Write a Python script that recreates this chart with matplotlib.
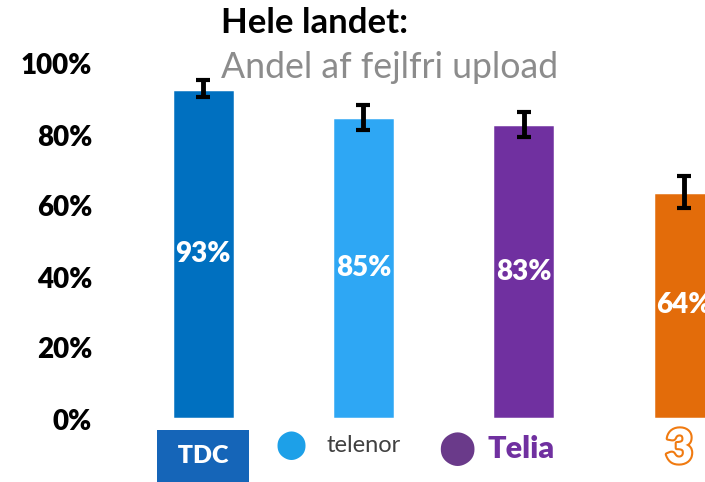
import matplotlib.pyplot as plt
import matplotlib.patheffects as pe
import numpy as np

# data
operators = ['TDC', 'Telenor', 'Telia', '3']
values = [93, 85, 83, 64]
errors = [2.4, 3.5, 3.5, 4.5]
colors = ['#0070C0', '#2EA7F4', '#7030A0', '#E36C0A']
ytick_vals = [0, 20, 40, 60, 80, 100]
ytick_labels = ['0%', '20%', '40%', '60%', '80%', '100%']

plt.rcParams['font.family'] = ['Lato', 'DejaVu Sans']

fig = plt.figure(figsize=(7.05, 4.82), dpi=100)
ax = fig.add_axes([99 / 705, 63 / 482, 606 / 705, 355 / 482])

x = np.arange(len(operators))
bars = ax.bar(x, values, width=0.393, color=colors, edgecolor='white', linewidth=2.5, zorder=2)
for b in bars:
    b.set_path_effects([pe.SimplePatchShadow(offset=(1.5, -1.5), shadow_rgbFace='#999999', alpha=0.5), pe.Normal()])

ax.errorbar(x, values, yerr=errors, fmt='none', ecolor='black', elinewidth=3.5, capsize=5, capthick=3, zorder=3, clip_on=False)

for xi, v in zip(x, values):
    ax.text(xi, v / 2, f'{v}%', ha='center', va='center', color='white', fontsize=20, fontweight='heavy', zorder=4)

ax.set_xlim(-0.649, 3.13)
ax.set_ylim(0, 100)
ax.set_yticks(ytick_vals)
ax.set_yticklabels(ytick_labels, fontsize=20, fontweight='heavy')
ax.tick_params(axis='y', length=0, pad=5)
ax.set_xticks([])
for s in ax.spines.values():
    s.set_visible(False)

# titles
fig.text(221 / 705, 1 - 23 / 482, 'Hele landet:', fontsize=25, fontweight='bold', ha='left', va='center')
fig.text(221 / 705, 1 - 68 / 482, 'Andel af fejlfri upload', fontsize=25.7, color='#8C8C8C', ha='left', va='center')

# logos as text
ax.text(0, -10.5, ' TDC ', ha='center', va='center', color='white', fontsize=18, fontweight='heavy',
        bbox=dict(boxstyle='square,pad=0.6', fc='#1565B8', ec='none'), clip_on=False)
ax.text(1.0, -7.5, 'telenor', ha='center', va='center', color='#404040', fontsize=17, clip_on=False)
ax.text(0.55, -7.5, '\u2b24', ha='center', va='center', color='#1DA0E8', fontsize=20, clip_on=False)
ax.text(1.98, -8.5, 'Telia', ha='center', va='center', color='#7030A0', fontsize=22, fontweight='heavy', clip_on=False)
ax.text(1.58, -8.5, '\u2b24', ha='center', va='center', color='#6A3A8A', fontsize=24, clip_on=False)
ax.text(2.97, -8.5, '3', ha='center', va='center', color='white', fontsize=34, fontweight='heavy', clip_on=False,
        path_effects=[pe.withStroke(linewidth=3, foreground='#F07A10')])

fig.savefig('out.png', dpi=100)
